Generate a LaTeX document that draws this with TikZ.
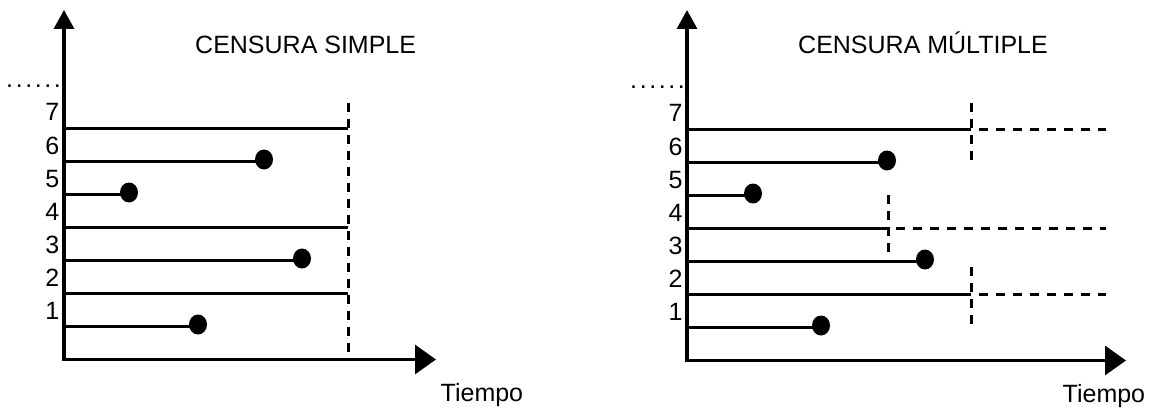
\documentclass[tikz,border=0pt]{standalone}
\usepackage{fontspec}
\setmainfont{Liberation Sans}
\usetikzlibrary{arrows.meta,shapes.geometric}
\newcommand\moredots{.\kern2.6pt.\kern2.6pt.\kern2.6pt.\kern2.6pt.\kern2.6pt.}
\begin{document}
\begin{tikzpicture}[x=1pt,y=-1pt,
  axis/.style={line width=3.2pt},
  yarrow/.style={-{Triangle[length=19pt,width=20pt]}},
  xarrow/.style={-{Triangle[length=21pt,width=29pt]}},
  life/.style={line width=2.6pt},
  censor/.style={line width=3pt,dash pattern=on 9pt off 7pt},
  follow/.style={line width=2.6pt,dash pattern=on 9pt off 8pt},
  event/.style={ellipse,fill=black,minimum width=18pt,minimum height=20pt,inner sep=0pt},
  lbl/.style={font=\fontsize{25}{30}\selectfont,inner sep=0pt},
]
\useasboundingbox (0,0) rectangle (1156,409);

% ---------------- simple censoring ----------------
\coordinate (Lob) at (64,361);
\coordinate (Lox) at (62.5,359.5);
\coordinate (Lytip) at (64,10);
\coordinate (Lxtip) at (436,359.5);
\draw[axis,yarrow] (Lob) -- (Lytip);
\draw[axis,xarrow] (Lox) -- (Lxtip);

\node[lbl,anchor=base west] (Ltitle) at (195,54) {CENSURA SIMPLE};
\node[lbl,anchor=base west] (Ltime) at (440.5,401) {Tiempo};
\node[lbl,anchor=base west] (Ldots) at (6,87.5) {\moredots};

\foreach \k in {1,...,7}{
  \coordinate (L\k) at (64,{359.5-33*\k});
  \node[lbl,anchor=base east] (Ln\k) at (59.5,{359.5-33*\k-7.5}) {\k};
}
% end of study
\coordinate (Lctop) at (348,103);
\coordinate (Lcbot) at (348,359.5);
\draw[censor] (Lctop) -- (Lcbot);

% censored subjects
\foreach \k in {2,4,7}{
  \coordinate (Le\k) at (348,{359.5-33*\k});
  \draw[life] (L\k) -- (Le\k);
}
% observed events
\node[event] (Ld1) at (198,324.5) {};
\node[event] (Ld3) at (302,258.5) {};
\node[event] (Ld5) at (129,192.5) {};
\node[event] (Ld6) at (264,159.5) {};
\draw[life] (L1) -- (L1 -| Ld1.center);
\draw[life] (L3) -- (L3 -| Ld3.center);
\draw[life] (L5) -- (L5 -| Ld5.center);
\draw[life] (L6) -- (L6 -| Ld6.center);

% ---------------- multiple censoring ----------------
\coordinate (Rob) at (687,362);
\coordinate (Rox) at (685.5,360.5);
\coordinate (Rytip) at (687,10);
\coordinate (Rxtip) at (1126,360.5);
\draw[axis,yarrow] (Rob) -- (Rytip);
\draw[axis,xarrow] (Rox) -- (Rxtip);

\node[lbl,anchor=base west] (Rtitle) at (798,54) {CENSURA MÚLTIPLE};
\node[lbl,anchor=base west] (Rtime) at (1062.5,402) {Tiempo};
\node[lbl,anchor=base west] (Rdots) at (630,89) {\moredots};

\foreach \k in {1,...,7}{
  \coordinate (R\k) at (687,{360.5-33*\k});
  \node[lbl,anchor=base east] (Rn\k) at (682.7,{360.5-33*\k-7.5}) {\k};
}

% censoring times
\coordinate (Rc7a) at (971,103);  \coordinate (Rc7b) at (971,162);
\coordinate (Rc4a) at (888,195);  \coordinate (Rc4b) at (888,256);
\coordinate (Rc2a) at (971,267);  \coordinate (Rc2b) at (971,328);
\draw[censor] (Rc7a) -- (Rc7b);
\draw[censor] (Rc4a) -- (Rc4b);
\draw[censor] (Rc2a) -- (Rc2b);

% censored subjects: observed part, then unobserved part
\coordinate (Re7) at (971,129.5); \coordinate (Rf7) at (979,129.5); \coordinate (Rg7) at (1106,129.5);
\coordinate (Re4) at (888,228.5); \coordinate (Rf4) at (896,228.5); \coordinate (Rg4) at (1106,228.5);
\coordinate (Re2) at (971,294.5); \coordinate (Rf2) at (979,294.5); \coordinate (Rg2) at (1106,294.5);
\draw[life] (R7) -- (Re7);
\draw[life] (R4) -- (Re4);
\draw[life] (R2) -- (Re2);
\draw[follow] (Rf7) -- (Rg7);
\draw[follow] (Rf4) -- (Rg4);
\draw[follow] (Rf2) -- (Rg2);

% observed events
\node[event] (Rd1) at (821,325.5) {};
\node[event] (Rd3) at (925,259.5) {};
\node[event] (Rd5) at (753,193.5) {};
\node[event] (Rd6) at (887,160.5) {};
\draw[life] (R1) -- (R1 -| Rd1.center);
\draw[life] (R3) -- (R3 -| Rd3.center);
\draw[life] (R5) -- (R5 -| Rd5.center);
\draw[life] (R6) -- (R6 -| Rd6.center);
\end{tikzpicture}
\end{document}
